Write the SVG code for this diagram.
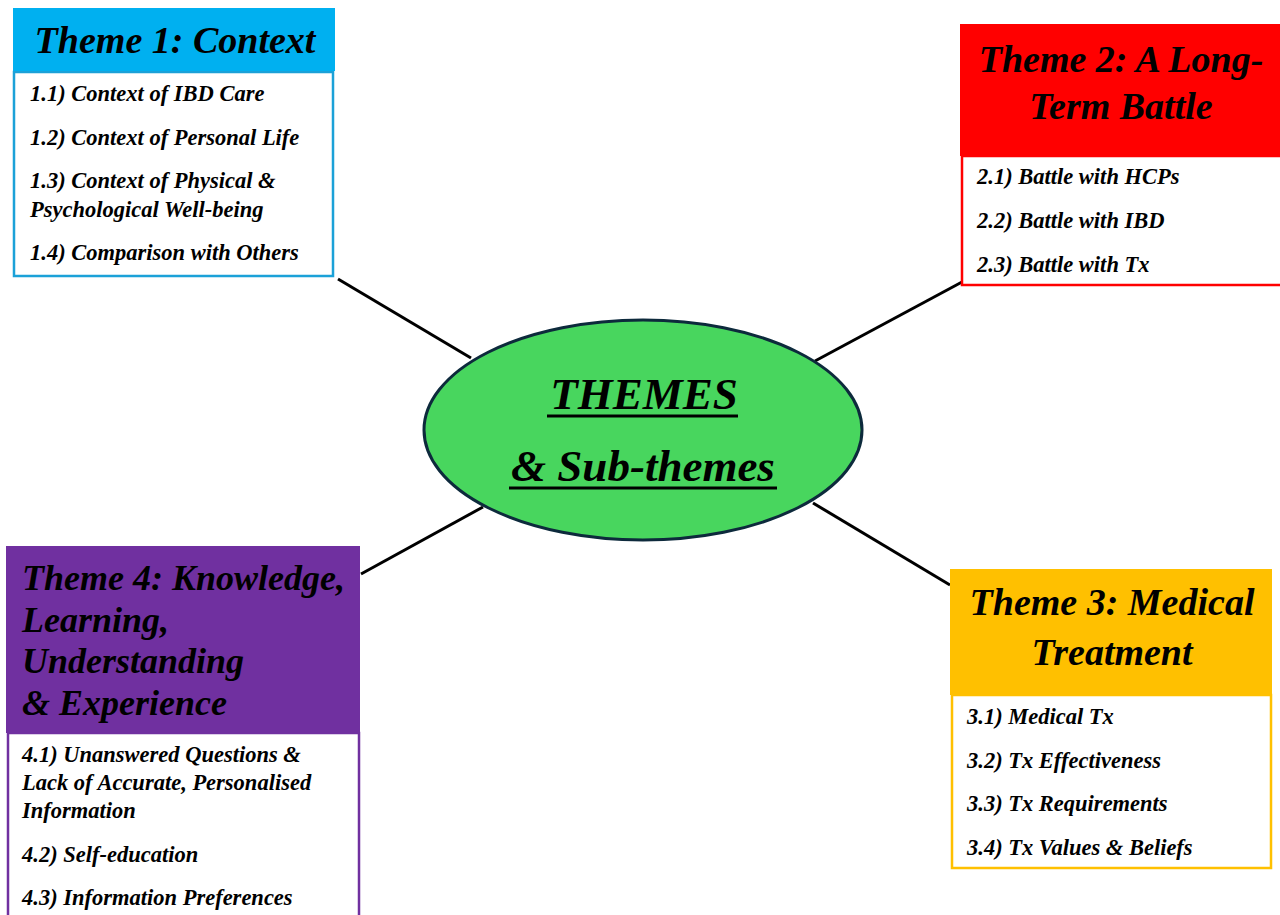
<svg xmlns="http://www.w3.org/2000/svg" width="1280" height="915" viewBox="0 0 1280 915">
<style>
.t{font-family:"Liberation Serif","Times New Roman",serif;font-weight:bold;font-style:italic;fill:#000}
.h{font-size:38px}
.h4{font-size:36px}
.s{font-size:22.5px}
.c{font-size:45px}
.conn{stroke:#000;stroke-width:3;fill:none}
</style>
<rect width="1280" height="915" fill="#fff"/>
<g id="connectors">
<line class="conn" x1="338" y1="279" x2="471" y2="358"/>
<line class="conn" x1="815" y1="361" x2="962" y2="282"/>
<line class="conn" x1="361" y1="574" x2="483" y2="507"/>
<line class="conn" x1="813" y1="503" x2="950" y2="585"/>
</g>
<g id="center">
<ellipse cx="643" cy="430" rx="219" ry="110" fill="#48D65E" stroke="#0D2A3C" stroke-width="3"/>
<text class="t c" x="644" y="409" text-anchor="middle">THEMES</text>
<line x1="547" y1="416" x2="738" y2="416" stroke="#000" stroke-width="3"/>
<text class="t c" x="643" y="481" text-anchor="middle">&amp; Sub-themes</text>
<line x1="509" y1="488" x2="777" y2="488" stroke="#000" stroke-width="3"/>
</g>
<g id="theme1">
<rect x="14" y="72" width="319" height="204" fill="#fff" stroke="#1BA1D8" stroke-width="2.5"/>
<rect x="13" y="8" width="322" height="63" fill="#00B0F0"/>
<text class="t h" x="175" y="53" text-anchor="middle">Theme 1: Context</text>
<text class="t s" x="30" y="101">1.1) Context of IBD Care</text>
<text class="t s" x="30" y="145">1.2) Context of Personal Life</text>
<text class="t s" x="30" y="188">1.3) Context of Physical &amp;</text>
<text class="t s" x="30" y="217">Psychological Well-being</text>
<text class="t s" x="30" y="260">1.4) Comparison with Others</text>
</g>
<g id="theme2">
<rect x="962" y="156" width="320" height="129" fill="#fff" stroke="#FF0000" stroke-width="2.5"/>
<rect x="960" y="24" width="320" height="132" fill="#FF0000"/>
<text class="t h" x="1121" y="72" text-anchor="middle">Theme 2: A Long-</text>
<text class="t h" x="1121" y="119" text-anchor="middle">Term Battle</text>
<text class="t s" x="977" y="184">2.1) Battle with HCPs</text>
<text class="t s" x="977" y="228">2.2) Battle with IBD</text>
<text class="t s" x="977" y="272">2.3) Battle with Tx</text>
</g>
<g id="theme3">
<rect x="952" y="695" width="319" height="173" fill="#fff" stroke="#FFC000" stroke-width="2.5"/>
<rect x="950" y="569" width="322" height="126" fill="#FFC000"/>
<text class="t h" x="1112" y="615" text-anchor="middle">Theme 3: Medical</text>
<text class="t h" x="1112" y="665" text-anchor="middle">Treatment</text>
<text class="t s" x="967" y="724">3.1) Medical Tx</text>
<text class="t s" x="967" y="768">3.2) Tx Effectiveness</text>
<text class="t s" x="967" y="811">3.3) Tx Requirements</text>
<text class="t s" x="967" y="855">3.4) Tx Values &amp; Beliefs</text>
</g>
<g id="theme4">
<rect x="8" y="733" width="351" height="190" fill="#fff" stroke="#7030A0" stroke-width="2.5"/>
<rect x="6" y="546" width="354" height="187" fill="#7030A0"/>
<text class="t h4" x="22" y="590">Theme 4: Knowledge,</text>
<text class="t h4" x="22" y="632">Learning,</text>
<text class="t h4" x="22" y="673">Understanding</text>
<text class="t h4" x="22" y="715">&amp; Experience</text>
<text class="t s" x="22" y="762">4.1) Unanswered Questions &amp;</text>
<text class="t s" x="22" y="790">Lack of Accurate, Personalised</text>
<text class="t s" x="22" y="818">Information</text>
<text class="t s" x="22" y="862">4.2) Self-education</text>
<text class="t s" x="22" y="905">4.3) Information Preferences</text>
</g>
</svg>
